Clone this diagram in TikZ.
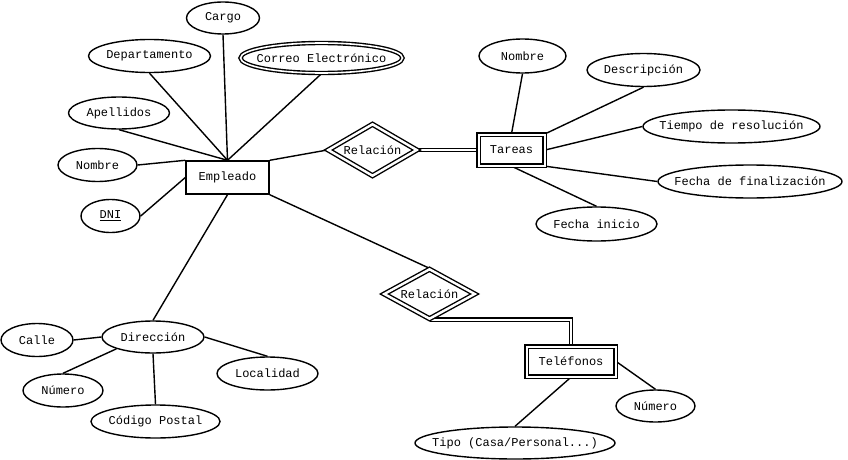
\documentclass[tikz,border=0pt]{standalone}
\usepackage{fontspec}
\newfontfamily\erfont{Liberation Mono}
\usetikzlibrary{shapes.geometric,backgrounds}
\begin{document}
\begin{tikzpicture}[x=1pt,y=-1pt, line width=1.4pt,
  every node/.style={font=\erfont\fontsize{12}{14}\selectfont, inner sep=0pt},
  attr/.style={ellipse, draw},
  mattr/.style={ellipse, draw, double, double distance=1.6pt},
  ent/.style={rectangle, draw},
  went/.style={rectangle, draw, double, double distance=2pt},
  wrel/.style={diamond, draw, double, double distance=2.4pt},
  conn/.style={line width=1.4pt},
  dbl/.style={line width=1.4pt, double, double distance=2pt}]
\useasboundingbox (0,0) rectangle (848,460);

\node[ent, minimum width=83, minimum height=33] (emp) at (227.5,177.5) {Empleado};
\node[attr, minimum width=73, minimum height=32] (cargo) at (223,18) {\makebox[0pt]{Cargo}};
\node[attr, minimum width=122, minimum height=33] (dep) at (149.5,56) {\makebox[0pt]{Departamento}};
\node[mattr, minimum width=162, minimum height=30] (correo) at (321.5,58) {\makebox[0pt]{Correo Electrónico}};
\node[attr, minimum width=101, minimum height=32] (apel) at (119,113) {\makebox[0pt]{Apellidos}};
\node[attr, minimum width=79, minimum height=33] (nom) at (97.5,165) {\makebox[0pt]{Nombre}};
\node[attr, minimum width=59, minimum height=33] (dni) at (110.5,216) {\makebox[0pt]{\underline{DNI}}};

\node[wrel, minimum width=89, minimum height=52] (r1) at (372.5,150) {\makebox[0pt]{Relación}};
\node[went, minimum width=66, minimum height=31] (tar) at (511.5,150) {Tareas};
\node[attr, minimum width=87, minimum height=34] (tnom) at (522.5,56) {\makebox[0pt]{Nombre}};
\node[attr, minimum width=113, minimum height=33] (desc) at (643.5,70) {\makebox[0pt]{Descripción}};
\node[attr, minimum width=177, minimum height=33] (tiempo) at (731.5,126.5) {\makebox[0pt]{Tiempo de resolución}};
\node[attr, minimum width=184, minimum height=33] (ffin) at (750,181.5) {\makebox[0pt]{Fecha de finalización}};
\node[attr, minimum width=121, minimum height=34] (fini) at (596.5,224) {\makebox[0pt]{Fecha inicio}};

\node[wrel, minimum width=91, minimum height=50] (r2) at (429.5,294) {\makebox[0pt]{Relación}};
\node[went, minimum width=89, minimum height=30] (tel) at (571,361.5) {Teléfonos};
\node[attr, minimum width=79, minimum height=32] (tnum) at (655.5,406) {\makebox[0pt]{Número}};
\node[attr, minimum width=200, minimum height=32] (tipo) at (515,443) {\makebox[0pt]{Tipo (Casa/Personal...)}};

\node[attr, minimum width=102, minimum height=32] (dir) at (153,337) {\makebox[0pt]{Dirección}};
\node[attr, minimum width=72, minimum height=33] (calle) at (37,340) {\makebox[0pt]{Calle}};
\node[attr, minimum width=80, minimum height=33] (dnum) at (63,390.5) {\makebox[0pt]{Número}};
\node[attr, minimum width=129, minimum height=33] (cp) at (155.5,421.5) {\makebox[0pt]{Código Postal}};
\node[attr, minimum width=101, minimum height=33] (loc) at (267.5,373.5) {\makebox[0pt]{Localidad}};

\begin{scope}[on background layer]
\draw[conn] (dep.south) -- (emp.north);
\draw[conn] (cargo.south) -- (emp.north);
\draw[conn] (correo.south) -- (emp.north);
\draw[conn] (apel.south) -- (emp.north);
\draw[conn] (nom.east) -- (emp.north west);
\draw[conn] (dni.east) -- (emp.west);
\draw[conn] (emp.north east) -- (r1.west);
\draw[dbl] (r1.east) -- (tar.west);
\draw[conn] (tnom.south) -- (tar.north);
\draw[conn] (desc.south) -- (tar.north east);
\draw[conn] (tiempo.west) -- (tar.east);
\draw[conn] (ffin.west) -- (tar.south east);
\draw[conn] (fini.north) -- (tar.south);
\draw[conn] (emp.south east) -- (r2.north);
\draw[dbl] (r2.south) -| (tel.north);
\draw[conn] (tnum.north) -- (tel.east);
\draw[conn] (tipo.north) -- (tel.south);
\draw[conn] (emp.south) -- (dir.north);
\draw[conn] (calle.east) -- (dir.west);
\draw[conn] (dnum.north) -- (dir.south west);
\draw[conn] (cp.north) -- (dir.south);
\draw[conn] (loc.north) -- (dir.east);
\end{scope}
\end{tikzpicture}
\end{document}
